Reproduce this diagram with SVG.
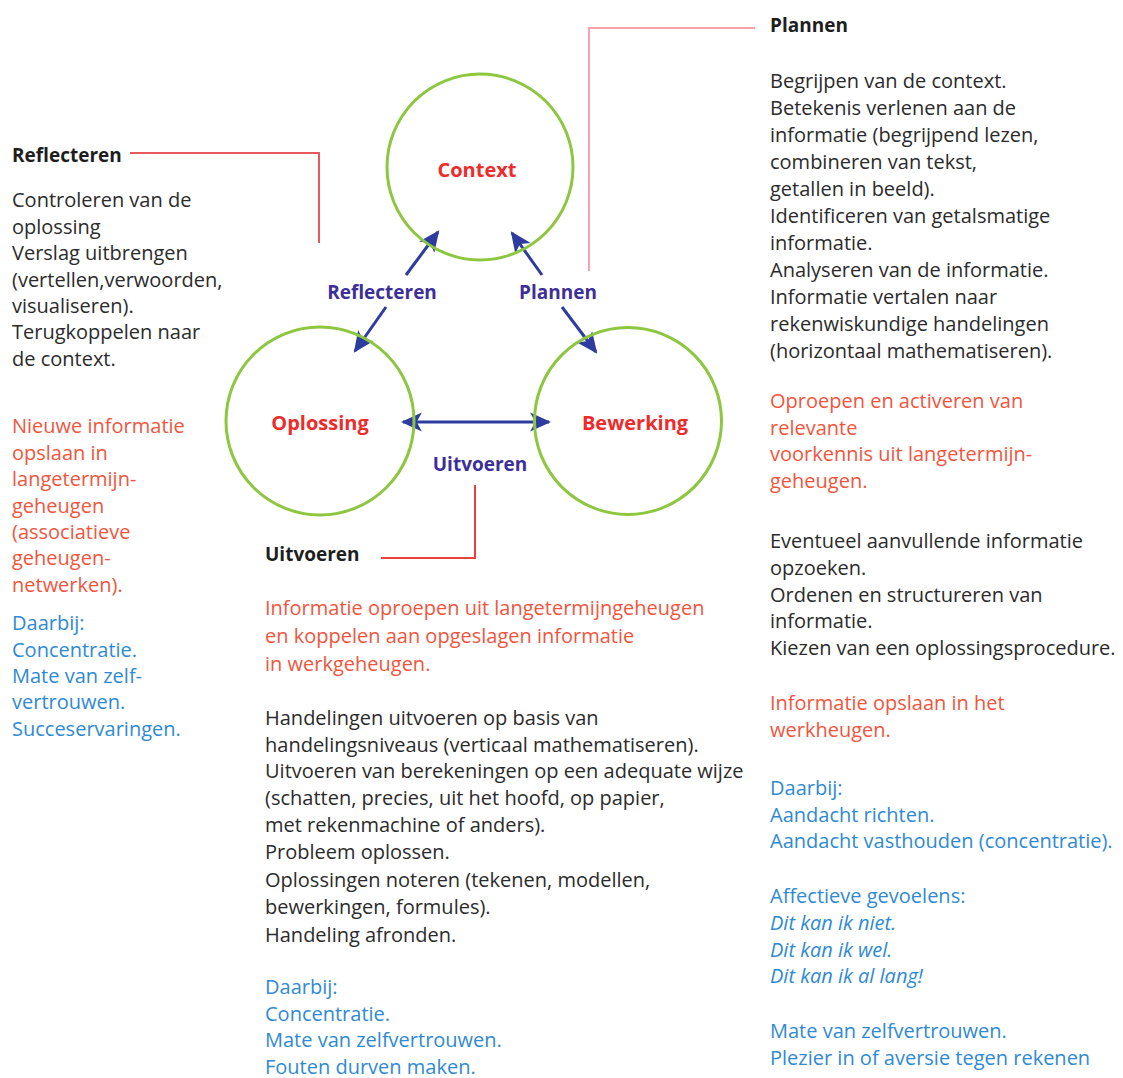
<svg xmlns="http://www.w3.org/2000/svg" width="1123" height="1078" viewBox="0 0 1123 1078">
<defs>
<style>
.circle{fill:none;stroke:#8dc63f;stroke-width:3}
.node{font-family:"Open Sans","Liberation Sans",sans-serif;font-weight:bold;font-size:20px;fill:#ee2b2b;text-anchor:middle}
.alabel{font-family:"Open Sans","Liberation Sans",sans-serif;font-weight:bold;font-size:19px;fill:#3c2f98;text-anchor:middle}
.arrow{stroke:#2e3c9f;stroke-width:3;fill:none}
.lead{fill:none;stroke-width:2}
.head{font-family:"Open Sans","Liberation Sans",sans-serif;font-weight:bold;font-size:19px;fill:#1e1e1e}
.body{font-family:"Open Sans","Liberation Sans",sans-serif;font-size:20px}
.dark{fill:#2b2b2b}
.red{fill:#f2553d}
.blue{fill:#2f8ad3}
.ital{font-style:italic}
</style>
<marker id="ah" viewBox="0 0 10 10" refX="9" refY="5" markerWidth="7" markerHeight="7" markerUnits="strokeWidth" orient="auto-start-reverse">
<path d="M0,0.5 L10,5 L0,9.5 L2.5,5 z" fill="#2e3c9f"/>
</marker>
</defs>
<rect width="1123" height="1078" fill="#ffffff"/>

<g id="connectors">
<line class="arrow" x1="406" y1="275" x2="438" y2="232" marker-end="url(#ah)"/>
<line class="arrow" x1="386" y1="307" x2="355" y2="351" marker-end="url(#ah)"/>
<line class="arrow" x1="542" y1="275" x2="512" y2="233" marker-end="url(#ah)"/>
<line class="arrow" x1="562" y1="307" x2="596" y2="352" marker-end="url(#ah)"/>
<line class="arrow" x1="403" y1="422" x2="549" y2="422" marker-start="url(#ah)" marker-end="url(#ah)"/>
<polyline class="lead" stroke="#e8595b" points="130,153 319,153 319,243"/>
<polyline class="lead" stroke="#f4a3ab" points="755,28 589,28 589,271"/>
<polyline class="lead" stroke="#e8423a" points="475,485 475,558 381,558"/>
</g>

<g id="node-context">
<circle class="circle" cx="480" cy="167" r="93"/>
<text class="node" x="477" y="177">Context</text>
</g>
<g id="node-oplossing">
<circle class="circle" cx="320" cy="421" r="94"/>
<text class="node" x="320" y="430">Oplossing</text>
</g>
<g id="node-bewerking">
<circle class="circle" cx="628" cy="421" r="93.5"/>
<text class="node" x="635" y="430">Bewerking</text>
</g>

<g id="arrow-labels">
<text class="alabel" x="382" y="299">Reflecteren</text>
<text class="alabel" x="558" y="299">Plannen</text>
<text class="alabel" x="480" y="471">Uitvoeren</text>
</g>

<g id="text-reflecteren">
<text class="head" x="12" y="162">Reflecteren</text>
<text class="body dark">
<tspan x="12" y="207">Controleren van de</tspan>
<tspan x="12" y="234">oplossing</tspan>
<tspan x="12" y="260">Verslag uitbrengen</tspan>
<tspan x="12" y="287">(vertellen,verwoorden,</tspan>
<tspan x="12" y="313">visualiseren).</tspan>
<tspan x="12" y="339">Terugkoppelen naar</tspan>
<tspan x="12" y="366">de context.</tspan>
</text>
<text class="body red">
<tspan x="12" y="433">Nieuwe informatie</tspan>
<tspan x="12" y="460">opslaan in</tspan>
<tspan x="12" y="486">langetermijn-</tspan>
<tspan x="12" y="513">geheugen</tspan>
<tspan x="12" y="539">(associatieve</tspan>
<tspan x="12" y="565">geheugen-</tspan>
<tspan x="12" y="592">netwerken).</tspan>
</text>
<text class="body blue">
<tspan x="12" y="630">Daarbij:</tspan>
<tspan x="12" y="657">Concentratie.</tspan>
<tspan x="12" y="683">Mate van zelf-</tspan>
<tspan x="12" y="709">vertrouwen.</tspan>
<tspan x="12" y="736">Succeservaringen.</tspan>
</text>
</g>

<g id="text-plannen">
<text class="head" x="770" y="32">Plannen</text>
<text class="body dark">
<tspan x="770" y="88">Begrijpen van de context.</tspan>
<tspan x="770" y="115">Betekenis verlenen aan de</tspan>
<tspan x="770" y="142">informatie (begrijpend lezen,</tspan>
<tspan x="770" y="169">combineren van tekst,</tspan>
<tspan x="770" y="196">getallen in beeld).</tspan>
<tspan x="770" y="223">Identificeren van getalsmatige</tspan>
<tspan x="770" y="250">informatie.</tspan>
<tspan x="770" y="277">Analyseren van de informatie.</tspan>
<tspan x="770" y="304">Informatie vertalen naar</tspan>
<tspan x="770" y="331">rekenwiskundige handelingen</tspan>
<tspan x="770" y="358">(horizontaal mathematiseren).</tspan>
</text>
<text class="body red">
<tspan x="770" y="408">Oproepen en activeren van</tspan>
<tspan x="770" y="435">relevante</tspan>
<tspan x="770" y="461">voorkennis uit langetermijn-</tspan>
<tspan x="770" y="488">geheugen.</tspan>
</text>
<text class="body dark">
<tspan x="770" y="548">Eventueel aanvullende informatie</tspan>
<tspan x="770" y="575">opzoeken.</tspan>
<tspan x="770" y="602">Ordenen en structureren van</tspan>
<tspan x="770" y="628">informatie.</tspan>
<tspan x="770" y="655">Kiezen van een oplossingsprocedure.</tspan>
</text>
<text class="body red">
<tspan x="770" y="710">Informatie opslaan in het</tspan>
<tspan x="770" y="737">werkheugen.</tspan>
</text>
<text class="body blue">
<tspan x="770" y="795">Daarbij:</tspan>
<tspan x="770" y="822">Aandacht richten.</tspan>
<tspan x="770" y="848">Aandacht vasthouden (concentratie).</tspan>
<tspan x="770" y="903">Affectieve gevoelens:</tspan>
<tspan x="770" y="930" class="ital">Dit kan ik niet.</tspan>
<tspan x="770" y="957" class="ital">Dit kan ik wel.</tspan>
<tspan x="770" y="983" class="ital">Dit kan ik al lang!</tspan>
<tspan x="770" y="1038">Mate van zelfvertrouwen.</tspan>
<tspan x="770" y="1065">Plezier in of aversie tegen rekenen</tspan>
</text>
</g>

<g id="text-uitvoeren">
<text class="head" x="265" y="561">Uitvoeren</text>
<text class="body red">
<tspan x="265" y="615">Informatie oproepen uit langetermijngeheugen</tspan>
<tspan x="265" y="643">en koppelen aan opgeslagen informatie</tspan>
<tspan x="265" y="671">in werkgeheugen.</tspan>
</text>
<text class="body dark">
<tspan x="265" y="725">Handelingen uitvoeren op basis van</tspan>
<tspan x="265" y="752">handelingsniveaus (verticaal mathematiseren).</tspan>
<tspan x="265" y="778">Uitvoeren van berekeningen op een adequate wijze</tspan>
<tspan x="265" y="805">(schatten, precies, uit het hoofd, op papier,</tspan>
<tspan x="265" y="832">met rekenmachine of anders).</tspan>
<tspan x="265" y="859">Probleem oplossen.</tspan>
<tspan x="265" y="887">Oplossingen noteren (tekenen, modellen,</tspan>
<tspan x="265" y="914">bewerkingen, formules).</tspan>
<tspan x="265" y="942">Handeling afronden.</tspan>
</text>
<text class="body blue">
<tspan x="265" y="994">Daarbij:</tspan>
<tspan x="265" y="1020.5">Concentratie.</tspan>
<tspan x="265" y="1047">Mate van zelfvertrouwen.</tspan>
<tspan x="265" y="1073.5">Fouten durven maken.</tspan>
</text>
</g>
</svg>
